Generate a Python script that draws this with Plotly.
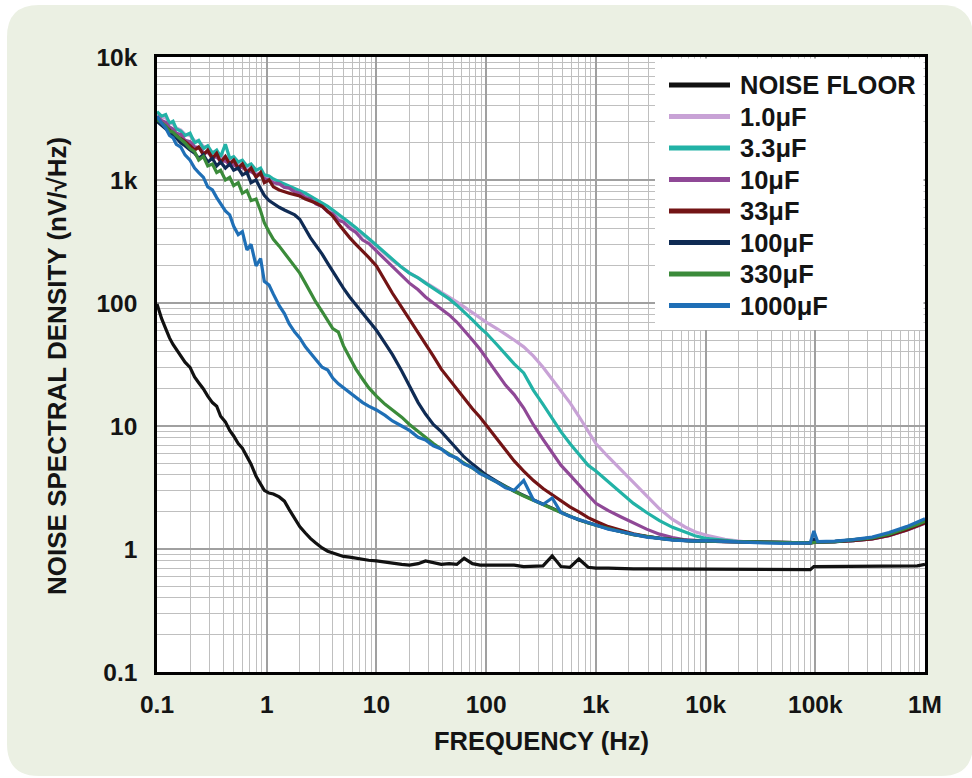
import plotly.graph_objects as go

# ---------------- data ----------------
FREQ_HZ = [
    0.1, 0.11, 0.12, 0.13, 0.14, 0.15, 0.165, 0.18, 0.2, 0.22, 0.24, 0.265, 0.29,
    0.32, 0.35, 0.38, 0.42, 0.46, 0.5, 0.55, 0.6, 0.66, 0.72, 0.8, 0.88, 0.95,
    1.05, 1.15, 1.3, 1.45, 1.6, 1.8, 2.0, 2.25, 2.5, 2.8, 3.2, 3.6, 4.0, 4.5, 5.0, 5.7, 6.5, 7.5, 8.5,
    10, 12, 14, 17, 20, 24, 28, 33, 39, 46, 54, 63, 75, 88,
    100, 125, 150, 180, 220, 270, 330, 400, 480, 580, 700, 850,
    1000, 1300, 1700, 2200, 2900, 3800, 5000, 6500, 8000,
    10000, 15000, 22000, 33000, 50000, 70000, 90000, 97000, 105000, 150000, 220000,
    330000, 470000, 680000, 850000, 1000000,
]

NOISE_FLOOR = [
    98, 75, 62, 52, 46, 42, 38, 33, 30, 25, 22.5, 20, 17.5, 15.5, 14.5, 12, 10.8, 9.2, 8.3, 7.2, 6.6, 5.7, 4.9, 3.9, 3.4, 3.0,
    2.85, 2.8, 2.65, 2.45, 2.1, 1.75, 1.52, 1.35, 1.22, 1.12, 1.02, 0.96, 0.93, 0.89, 0.87, 0.86, 0.84, 0.83, 0.81,
    0.8, 0.78, 0.76, 0.75, 0.74, 0.76, 0.8, 0.77, 0.75, 0.76, 0.75, 0.84, 0.76, 0.74,
    0.74, 0.73, 0.73, 0.74, 0.72, 0.72, 0.73, 0.88, 0.72, 0.71, 0.83, 0.71,
    0.70, 0.70, 0.69, 0.69, 0.69, 0.69, 0.69, 0.69, 0.69,
    0.69, 0.68, 0.68, 0.68, 0.68, 0.68, 0.68, 0.72, 0.72, 0.72, 0.72, 0.72, 0.72, 0.72, 0.73, 0.75,
]
C_1U0 = [
    3500, 3250, 3200, 2950, 2850, 2650, 2550, 2350, 2300, 2080, 2050, 1880, 1850, 1680, 1700, 1530, 1560, 1430, 1450, 1330, 1340, 1230, 1240, 1130, 1140, 1050,
    1020, 980, 930, 900, 870, 830, 790, 750, 710, 680, 630, 590, 550, 510, 475, 440, 400, 360, 330,
    290, 250, 222, 195, 176, 160, 147, 135, 124, 112, 102, 93, 83, 75,
    70, 62, 56, 50, 44, 37, 30, 24, 19, 15.5, 12.0, 9.2,
    7.2, 5.6, 4.4, 3.5, 2.7, 2.12, 1.74, 1.51, 1.38,
    1.3, 1.2, 1.15, 1.13, 1.12, 1.12, 1.12, 1.13, 1.14, 1.15, 1.17, 1.21, 1.29, 1.43, 1.54, 1.63,
]
C_3U3 = [
    3600, 3300, 3400, 2900, 3000, 2600, 2500, 2300, 2400, 2000, 2100, 1800, 1900, 1650, 1750, 1550, 1950, 1500, 1550, 1400, 1450, 1300, 1350, 1200, 1250, 1100,
    1080, 1020, 970, 930, 900, 860, 820, 780, 740, 700, 650, 610, 570, 530, 490, 450, 410, 370, 335,
    295, 255, 225, 195, 175, 160, 145, 132, 120, 108, 96, 85, 73, 63,
    57, 46, 38, 32, 27, 19.5, 15, 11.5, 9.0, 7.2, 5.9, 4.8,
    4.3, 3.5, 2.85, 2.35, 1.98, 1.7, 1.5, 1.37, 1.28,
    1.22, 1.17, 1.14, 1.13, 1.12, 1.12, 1.12, 1.13, 1.14, 1.15, 1.17, 1.22, 1.3, 1.44, 1.55, 1.64,
]
C_10U = [
    3300, 3050, 2950, 2700, 2600, 2400, 2350, 2100, 2050, 1860, 1840, 1670, 1680, 1520, 1540, 1420, 1430, 1320, 1330, 1250, 1270, 1180, 1170, 1100, 1100, 1030,
    1000, 950, 930, 870, 860, 800, 780, 720, 700, 640, 610, 550, 530, 470, 455, 405, 375, 325, 305,
    265, 225, 195, 165, 145, 128, 112, 100, 90, 80, 70, 60, 50, 42,
    36, 27, 21.5, 18, 14, 10.2, 7.8, 6.0, 4.8, 4.0, 3.3, 2.75,
    2.35, 2.05, 1.82, 1.62, 1.45, 1.32, 1.24, 1.19, 1.17,
    1.16, 1.15, 1.14, 1.13, 1.12, 1.12, 1.12, 1.13, 1.14, 1.15, 1.17, 1.21, 1.28, 1.42, 1.53, 1.62,
]
C_33U = [
    3100, 2900, 2700, 2550, 2400, 2300, 2200, 2050, 1900, 1750, 1850, 1600, 1750, 1500, 1650, 1400, 1550, 1350, 1450, 1250, 1350, 1150, 1250, 1050, 1150, 950,
    1000, 880, 830, 800, 780, 760, 740, 700, 680, 650, 610, 560, 510, 440, 390, 340, 300, 265, 235,
    200, 150, 120, 92, 74, 57, 46, 37, 29, 24, 20, 16.5, 13.8, 11.8,
    10.2, 7.8, 6.3, 5.2, 4.3, 3.6, 3.1, 2.75, 2.45, 2.2, 2.0, 1.8,
    1.68, 1.52, 1.42, 1.33, 1.27, 1.22, 1.19, 1.17, 1.16,
    1.16, 1.15, 1.14, 1.13, 1.12, 1.12, 1.12, 1.13, 1.14, 1.15, 1.17, 1.21, 1.29, 1.43, 1.54, 1.63,
]
C_100U = [
    3000, 2800, 2600, 2450, 2300, 2200, 2000, 1900, 1750, 1650, 1500, 1600, 1400, 1500, 1300, 1400, 1250, 1350, 1200, 1250, 1100, 1150, 950, 1000, 850, 750,
    680, 640, 600, 570, 550, 520, 480, 400, 340, 295, 250, 210, 180, 150, 132, 112, 97, 83, 72,
    60, 47, 38, 28, 21, 15.5, 12.5, 10.3, 9.0, 7.6, 6.5, 5.6, 4.9, 4.4,
    4.0, 3.55, 3.22, 2.96, 2.72, 2.5, 2.3, 2.12, 1.98, 1.85, 1.72, 1.63,
    1.56, 1.46, 1.38, 1.31, 1.26, 1.22, 1.19, 1.17, 1.16,
    1.16, 1.15, 1.14, 1.13, 1.12, 1.12, 1.12, 1.2, 1.14, 1.15, 1.18, 1.23, 1.32, 1.47, 1.59, 1.7,
]
C_330U = [
    3100, 2900, 2750, 2500, 2450, 2300, 2150, 2000, 1800, 1700, 1450, 1550, 1300, 1350, 1150, 1200, 1000, 1050, 900, 950, 780, 820, 680, 700, 560, 450,
    380, 330, 290, 255, 225, 200, 175, 145, 122, 102, 85, 72, 62, 58, 45, 36, 29, 24, 20.5,
    17.5, 15.0, 13.5, 11.8, 10.3, 9.0, 8.0, 7.2, 6.5, 5.95, 5.45, 5.0, 4.55, 4.15,
    3.88, 3.5, 3.2, 2.95, 2.7, 2.48, 2.3, 2.13, 1.98, 1.85, 1.73, 1.63,
    1.56, 1.46, 1.38, 1.31, 1.26, 1.22, 1.19, 1.17, 1.16,
    1.16, 1.15, 1.14, 1.13, 1.12, 1.12, 1.12, 1.13, 1.14, 1.15, 1.18, 1.23, 1.32, 1.47, 1.58, 1.68,
]
C_1000U = [
    3300, 2900, 2650, 2300, 2200, 1950, 1850, 1600, 1450, 1250, 1150, 1050, 880, 830, 720, 650, 560, 520, 420, 360, 380, 270, 300, 200, 230, 150,
    140, 118, 95, 82, 68, 58, 52, 44, 39, 35, 30, 28.5, 24.5, 22, 20.5, 18.5, 17, 15.5, 14.5,
    13.5, 12.2, 11.0, 10.0, 9.2, 8.1, 7.7, 6.9, 6.5, 5.8, 5.5, 4.9, 4.6, 4.1,
    3.9, 3.5, 3.15, 3.0, 3.6, 2.5, 2.3, 2.6, 1.98, 1.84, 1.74, 1.62,
    1.56, 1.45, 1.38, 1.31, 1.25, 1.22, 1.18, 1.17, 1.16,
    1.17, 1.15, 1.13, 1.12, 1.11, 1.12, 1.12, 1.4, 1.15, 1.16, 1.19, 1.25, 1.36, 1.52, 1.65, 1.76,
]

SERIES_NAMES = ["NOISE FLOOR", "1.0μF", "3.3μF", "10μF", "33μF", "100μF", "330μF", "1000μF"]
SERIES_VALUES = [NOISE_FLOOR, C_1U0, C_3U3, C_10U, C_33U, C_100U, C_330U, C_1000U]
SERIES_COLORS = ["#111111", "#c8a2d6", "#22b2a6", "#8f4896", "#731415", "#0f2b54", "#3b8b3a", "#1f6fb6"]

X_TICK_VALS = [0.1, 1, 10, 100, 1000, 10000, 100000, 1000000]
X_TICK_TEXT = ["0.1", "1", "10", "100", "1k", "10k", "100k", "1M"]
Y_TICK_VALS = [0.1, 1, 10, 100, 1000, 10000]
Y_TICK_TEXT = ["0.1", "1", "10", "100", "1k", "10k"]

# ---------------- layout geometry (pixels) ----------------
W, H = 972, 778
ML, MR, MT, MB = 157, 47, 57, 106
PW, PH = W - ML - MR, H - MT - MB


def px(x):
    return (x - ML) / PW


def py(y):
    return (H - MB - y) / PH


FONT = "Liberation Sans, Arial, Helvetica, sans-serif"
INK = "#141414"

fig = go.Figure()
for name, vals, col in zip(SERIES_NAMES, SERIES_VALUES, SERIES_COLORS):
    fig.add_trace(go.Scatter(x=FREQ_HZ, y=vals, mode="lines", name=name,
                             line=dict(color=col, width=3.2), showlegend=False))

minor_x = [m * 10 ** e for e in range(-1, 6) for m in range(2, 10)]
minor_y = [m * 10 ** e for e in range(-1, 4) for m in range(2, 10)]

axis_common = dict(type="log", showline=True, linecolor="black", linewidth=2.5, mirror=True,
                   ticks="", showgrid=True, gridcolor="#a0a0a0", gridwidth=1.6, zeroline=False,
                   tickmode="array", tickfont=dict(size=24.5, color=INK, family=FONT, weight="bold"))
fig.update_xaxes(range=[-1, 6], tickvals=X_TICK_VALS, ticktext=X_TICK_TEXT,
                 minor=dict(tickmode="array", tickvals=minor_x, showgrid=True,
                            gridcolor="#bfbfbf", gridwidth=1, ticks=""),
                 ticklabelstandoff=9, **axis_common)
fig.update_yaxes(range=[-1, 4], tickvals=Y_TICK_VALS, ticktext=Y_TICK_TEXT,
                 minor=dict(tickmode="array", tickvals=minor_y, showgrid=True,
                            gridcolor="#bfbfbf", gridwidth=1, ticks=""),
                 ticklabelstandoff=12, **axis_common)

# rounded background card
cl, ct, cr, cb, rad = 7, 5, 973, 776, 32
card = (f"M {px(cl+rad)},{py(ct)} L {px(cr-rad)},{py(ct)} Q {px(cr)},{py(ct)} {px(cr)},{py(ct+rad)} "
        f"L {px(cr)},{py(cb-rad)} Q {px(cr)},{py(cb)} {px(cr-rad)},{py(cb)} "
        f"L {px(cl+rad)},{py(cb)} Q {px(cl)},{py(cb)} {px(cl)},{py(cb-rad)} "
        f"L {px(cl)},{py(ct+rad)} Q {px(cl)},{py(ct)} {px(cl+rad)},{py(ct)} Z")
shapes = [
    dict(type="path", path=card, xref="paper", yref="paper", fillcolor="#ebf0e3",
         line=dict(width=0), layer="below"),
    dict(type="rect", x0=0, x1=1, y0=0, y1=1, xref="paper", yref="paper",
         fillcolor="white", line=dict(width=0), layer="below"),
    # legend box
    dict(type="rect", x0=px(655), x1=px(925 - 1.5), y0=py(330), y1=py(57 + 1.5),
         xref="paper", yref="paper", fillcolor="white", line=dict(width=0), layer="above"),
]
annotations = []
for i, (name, col) in enumerate(zip(SERIES_NAMES, SERIES_COLORS)):
    yy = 85 + i * 31.5
    shapes.append(dict(type="line", x0=px(669), x1=px(730), y0=py(yy), y1=py(yy),
                       xref="paper", yref="paper", line=dict(color=col, width=5), layer="above"))
    annotations.append(dict(x=px(738), y=py(yy), xref="paper", yref="paper", text=name,
                            xanchor="left", yanchor="middle", showarrow=False,
                            font=dict(size=25.5, color=INK, family=FONT, weight="bold")))

annotations.append(dict(x=0.5, y=py(741), xref="paper", yref="paper", text="FREQUENCY (Hz)",
                        xanchor="center", yanchor="middle", showarrow=False,
                        font=dict(size=25.5, color=INK, family=FONT, weight="bold")))
annotations.append(dict(x=px(57), y=py(366), xref="paper", yref="paper",
                        text="NOISE SPECTRAL DENSITY (nV/√Hz)", textangle=-90,
                        xanchor="center", yanchor="middle", showarrow=False,
                        font=dict(size=26, color=INK, family=FONT, weight="bold")))

fig.update_layout(
    width=W, height=H,
    margin=dict(l=ML, r=MR, t=MT, b=MB, pad=0),
    paper_bgcolor="white", plot_bgcolor="white",
    showlegend=False,
    font=dict(family=FONT, size=24, color=INK, weight="bold"),
    shapes=shapes, annotations=annotations,
)

fig.write_html("out.html", config={"displayModeBar": False},
               post_script="document.body.style.margin='0';")
